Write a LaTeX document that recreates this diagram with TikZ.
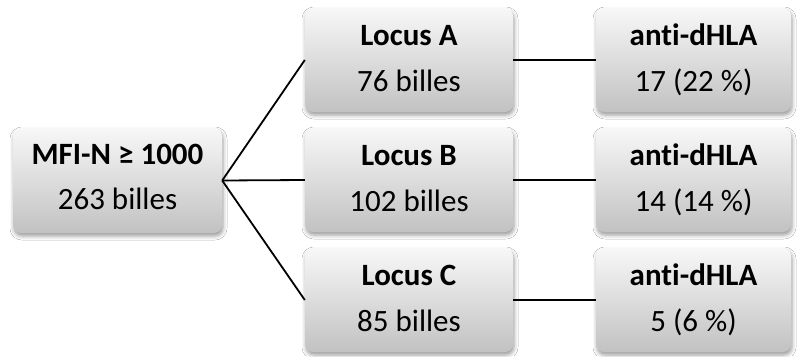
\documentclass[tikz,border=0pt]{standalone}
\usepackage{fontspec}
\setmainfont{Carlito}[Ligatures={NoCommon}]
\usetikzlibrary{shadows.blur}
\definecolor{txt}{HTML}{000000}
\tikzset{
  box/.style={rounded corners=8pt, top color=white!97!black, bottom color=white!76!black,
    draw=none, blur shadow={shadow xshift=1pt, shadow yshift=-3pt, shadow blur radius=4pt, shadow opacity=40},
    minimum width=#1, minimum height=104pt, inner sep=0pt},
  hd/.style={anchor=base, font=\fontsize{31}{36}\selectfont\bfseries, text=txt, inner sep=0pt},
  rg/.style={anchor=base, font=\fontsize{31}{36}\selectfont, text=txt, inner sep=0pt},
  conn/.style={line width=1.8pt, black}
}
\begin{document}
\begin{tikzpicture}[x=1pt,y=-1pt]
\useasboundingbox[fill=white] (0,0) rectangle (797,356);
% boxes
\node[box=209pt, minimum height=105pt] (m) at (117.5,180.5) {};
\node[box=208pt] (a) at (409,60) {};
\node[box=208pt] (b) at (409,180) {};
\node[box=208pt] (c) at (409,300) {};
\node[box=195pt] (da) at (693.5,60) {};
\node[box=195pt] (db) at (693.5,180) {};
\node[box=195pt] (dc) at (693.5,300) {};
% texts
\node[hd] (mt) at ([yshift=16.5pt]m.center) {MFI-N ≥ 1000};
\node[rg] (ms) at ([yshift=-28.5pt]m.center) {263 billes};
\node[hd] (at) at ([yshift=15pt]a.center) {Locus A};
\node[rg] (as) at ([yshift=-31.5pt]a.center) {76 billes};
\node[hd] (bt) at ([yshift=15pt]b.center) {Locus B};
\node[rg] (bs) at ([yshift=-31.5pt]b.center) {102 billes};
\node[hd] (ct) at ([yshift=15pt]c.center) {Locus C};
\node[rg] (cs) at ([yshift=-31.5pt]c.center) {85 billes};
\node[hd] (dat) at ([yshift=15pt]da.center) {anti-dHLA};
\node[rg] (das) at ([yshift=-31.5pt]da.center) {17 (22 \%)};
\node[hd] (dbt) at ([yshift=15pt]db.center) {anti-dHLA};
\node[rg] (dbs) at ([yshift=-31.5pt]db.center) {14 (14 \%)};
\node[hd] (dct) at ([yshift=15pt]dc.center) {anti-dHLA};
\node[rg] (dcs) at ([yshift=-31.5pt]dc.center) {5 (6 \%)};
% connectors
\draw[conn] (m.east) -- (a.west);
\draw[conn] (m.east) -- (b.west);
\draw[conn] (m.east) -- (c.west);
\draw[conn] (a.east) -- (da.west);
\draw[conn] (b.east) -- (db.west);
\draw[conn] (c.east) -- (dc.west);
\end{tikzpicture}
\end{document}
